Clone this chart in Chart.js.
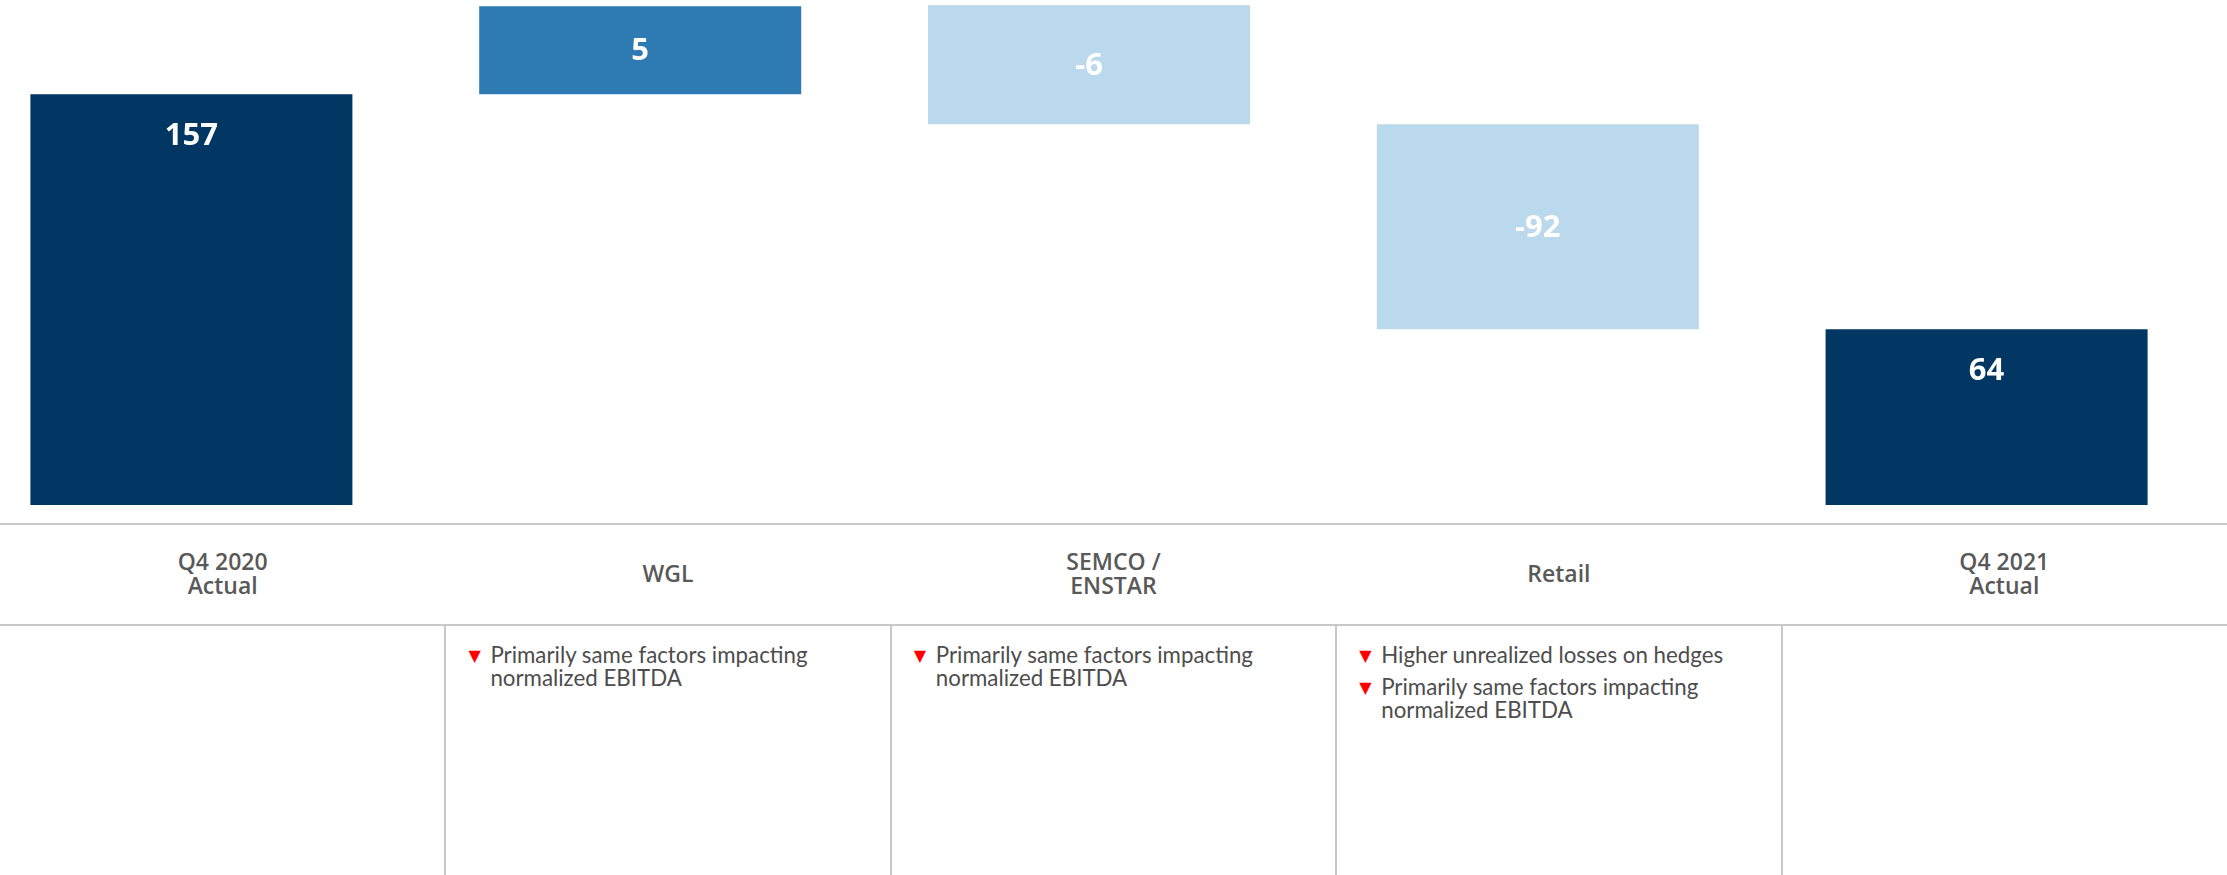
<!DOCTYPE html>
<html>
<head>
<meta charset="utf-8">
<script src="https://cdn.jsdelivr.net/npm/chart.js@4.4.1/dist/chart.umd.min.js"></script>
<style>
  html, body { margin: 0; padding: 0; background: #fff; }
  body { position: relative; width: 2227px; height: 875px; overflow: hidden; font-family: "Open Sans", sans-serif; }
  #wrap { position: absolute; left: -33px; top: 0; width: 2244px; height: 505px; }
  .hline { position: absolute; left: 0; width: 2227px; height: 2px; background: #c8c8c8; }
  .vline { position: absolute; top: 625px; width: 2px; height: 250px; background: #c8c8c8; }
  .cat { position: absolute; top: 522px; height: 101px; display: flex; align-items: center; justify-content: center;
         text-align: center; color: #595959; font-weight: 600; font-size: 23px; line-height: 24px; white-space: pre; }
  .notes { position: absolute; top: 643px; margin: 0; padding: 0; list-style: none; color: #4d4d4d;
           font-family: "Lato", sans-serif; font-size: 22.3px; line-height: 23px; }
  .notes li { position: relative; padding-left: 45px; margin-bottom: 9px; white-space: pre; }
  .notes li::before { content: "\25BC"; position: absolute; left: 23px; top: 1px; color: #ff0000; font-family: "DejaVu Sans"; font-size: 16px; }
</style>
</head>
<body>
<div id="wrap"><canvas id="chart"></canvas></div>
<script>
// categories and the values printed on the bars
const categories = ["Q4 2020\nActual", "WGL", "SEMCO /\nENSTAR", "Retail", "Q4 2021\nActual"];
const values = [157, 5, -6, -92, 64];
const kinds = ["total", "up", "down", "down", "total"];
// bar extents as drawn in the picture (the slide is not to scale)
const barLow = [0, 157, 145.5, 67.2, 0];
const barHigh = [157, 190.6, 191.0, 145.5, 67.2];
// commentary under each column
const notes = [
  [],
  ["Primarily same factors impacting\nnormalized EBITDA"],
  ["Primarily same factors impacting\nnormalized EBITDA"],
  ["Higher unrealized losses on hedges", "Primarily same factors impacting\nnormalized EBITDA"],
  []
];

const kindColors = { total: "#023663", up: "#2e7ab2", down: "#bbd9ec" };

// table under the chart
const colW = 2227 / categories.length;
function addDiv(cls, css) {
  const d = document.createElement("div");
  d.className = cls;
  Object.assign(d.style, css);
  document.body.appendChild(d);
  return d;
}
addDiv("hline", { top: "523px" });
addDiv("hline", { top: "624px" });
categories.forEach((c, i) => {
  if (i > 0) addDiv("vline", { left: Math.round(i * colW) - 1 + "px" });
  const lab = addDiv("cat", { left: i * colW + "px", width: colW + "px" });
  lab.textContent = c;
  if (notes[i].length) {
    const ul = document.createElement("ul");
    ul.className = "notes";
    ul.style.left = i * colW + "px";
    ul.style.width = colW + "px";
    notes[i].forEach(n => {
      const li = document.createElement("li");
      li.textContent = n;
      ul.appendChild(li);
    });
    document.body.appendChild(ul);
  }
});

const barLabels = {
  id: "barLabels",
  afterDatasetsDraw(chart) {
    const ctx = chart.ctx;
    const meta = chart.getDatasetMeta(0);
    ctx.save();
    ctx.fillStyle = "#ffffff";
    ctx.font = "bold 31px 'Open Sans'";
    ctx.textAlign = "center";
    ctx.textBaseline = "middle";
    meta.data.forEach((bar, i) => {
      const top = Math.min(bar.y, bar.base);
      const bottom = Math.max(bar.y, bar.base);
      const y = kinds[i] === "total" ? top + 42 : (top + bottom) / 2 + 1;
      ctx.fillText(String(values[i]), bar.x, y);
    });
    ctx.restore();
  }
};

new Chart(document.getElementById("chart"), {
  type: "bar",
  data: {
    labels: categories.map(c => c.replace("\n", " ")),
    datasets: [{
      data: barLow.map((lo, i) => [lo, barHigh[i]]),
      backgroundColor: kinds.map(k => kindColors[k]),
      borderWidth: 0,
      barPercentage: 0.7175,
      categoryPercentage: 1
    }]
  },
  options: {
    responsive: true,
    maintainAspectRatio: false,
    animation: false,
    layout: { padding: 0 },
    scales: {
      x: { display: false },
      y: { display: false, min: 0, max: 193 }
    },
    plugins: {
      legend: { display: false },
      tooltip: { enabled: false }
    }
  },
  plugins: [barLabels]
});
</script>
</body>
</html>
